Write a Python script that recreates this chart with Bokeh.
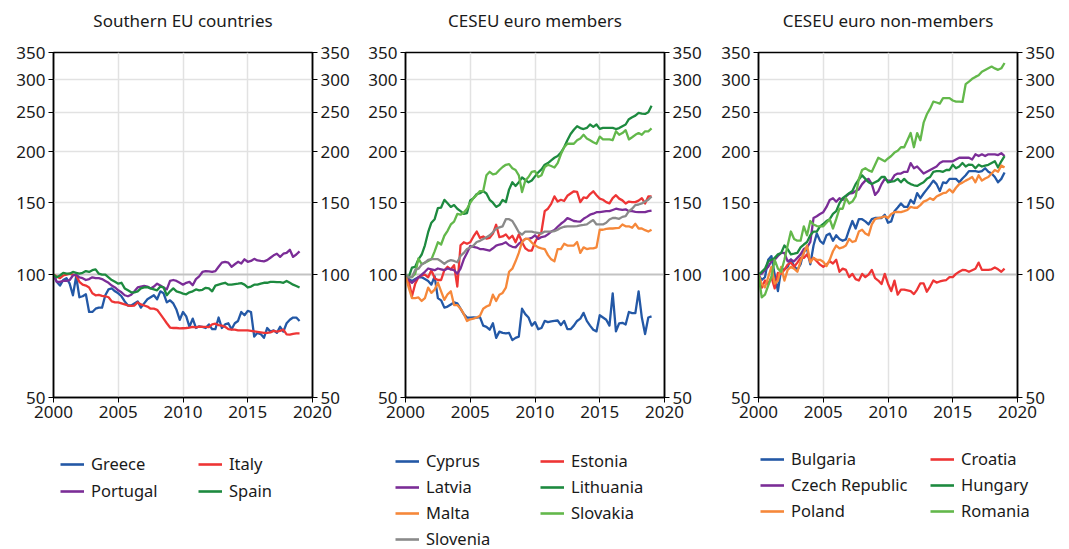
from bokeh.plotting import figure
from bokeh.models import (LogAxis, LinearAxis, FixedTicker, BasicTickFormatter, Span,
                          Legend, LegendItem)
from bokeh.layouts import row, column
from bokeh.embed import file_html
from bokeh.resources import INLINE

# quarterly observations, 2000Q1 .. 2019Q1 (index 2000Q1 = 100)
years = [2000 + 0.25 * i for i in range(77)]

y_ticks = [50, 100, 150, 200, 250, 300, 350]
x_ticks = [2000, 2005, 2010, 2015, 2020]

# ---- Southern EU countries ----
greece = [100, 96, 94, 97, 98, 95, 89, 99, 88, 88.5,
          89.5, 81, 81, 82.5, 83, 83, 89, 92, 92.5, 91,
          90, 88.5, 86, 84, 84, 85, 86, 83, 85, 87,
          88, 89, 87, 91, 90, 85.5, 86.5, 85, 82, 77.5,
          81, 79, 74.5, 78, 74, 74.7, 74.5, 74, 75.5, 73.5,
          73.5, 78.5, 74, 75.5, 76, 73.5, 76, 77, 81, 79.5,
          81.5, 81, 70.5, 72, 71.5, 70, 74, 72.5, 73, 72,
          74.5, 72.5, 76, 77.5, 78.5, 78.5, 77]
italy = [100, 99, 98, 99.5, 100, 100.5, 100, 99.5, 96, 94.5,
         94, 93, 90, 89, 89.2, 88.7, 88.5, 88, 86, 85.5,
         85.5, 85, 84.5, 84, 83.8, 84, 85.5, 84.5, 84, 83.5,
         82.5, 82.5, 82, 80, 78, 76, 74.2, 74, 74, 73.8,
         73.9, 74, 74.2, 74.5, 74.3, 74.6, 74.5, 74.5, 74.4, 75.5,
         75.8, 75.2, 75, 74.5, 73.5, 73.3, 73.3, 73, 73, 73,
         73, 72.8, 72.6, 72.4, 72.2, 72, 72, 72.2, 72.8, 72.5,
         72.8, 73.3, 71.4, 71.3, 71.6, 71.8, 71.8]
portugal = [100, 96, 96, 96.5, 96.5, 97, 99.5, 100, 98.5, 98,
            97, 97.5, 98.5, 98, 98, 97.5, 96.5, 95.5, 94, 93,
            91.5, 90.5, 89, 88.5, 89.3, 91, 93, 93.5, 93.8, 93.5,
            92.5, 93.5, 95, 94, 93, 92, 96.5, 97, 96.5, 95.5,
            94.5, 95.5, 96, 94.2, 97.5, 99, 101.5, 102, 101.8, 101.5,
            102, 104.5, 107, 107.5, 107, 104.5, 106, 107.5, 106.5, 109,
            107.5, 108, 109.3, 108.3, 108, 107.8, 108.5, 110, 111.5, 112.5,
            110.5, 112.5, 113, 115, 110.5, 112, 114]
spain = [100, 98.5, 99.5, 101, 100.5, 100.5, 101.5, 101, 100.5, 101,
         102, 101.5, 102.5, 103, 100.5, 100, 100, 98.5, 97, 96,
         95, 95.5, 92.5, 91.5, 90.5, 90.5, 91, 92.5, 93, 93.2,
         92.5, 92, 91.5, 93.5, 93, 89, 91, 92.5, 91, 90.5,
         89.8, 89.5, 90.5, 91, 92, 91.5, 91.8, 92.8, 92.5, 91,
         94, 94.5, 95, 95.5, 94.5, 94.5, 94.8, 95, 95.3, 94.5,
         93, 93.5, 94.5, 94.5, 95, 95.5, 95.5, 96, 96, 95.8,
         95.8, 95.5, 96.5, 95.5, 94.5, 93.8, 93]

# ---- CESEU euro members ----
cyprus = [100, 97.5, 96.5, 97.5, 98.5, 98.5, 97.5, 96.5, 94.5, 99,
          87.6, 86.5, 83, 83.5, 84.5, 85.5, 85, 82.5, 80, 78.5,
          78.5, 78.6, 78.5, 78.7, 75, 74.5, 73.3, 76, 70, 72.5,
          72, 71.8, 72, 69.1, 70, 70.5, 82.5, 80, 78.5, 75,
          76.5, 73.5, 74, 77, 76.5, 76.8, 77, 77.2, 75.2, 77,
          73.5, 73.5, 75, 77, 78, 80.6, 77, 75, 73.3, 72.6,
          79.5, 78.5, 77.5, 75, 90, 72.6, 76, 76.2, 75.5, 81,
          80.5, 80.5, 91, 78.5, 71.5, 78.5, 79]
estonia = [100, 96.5, 88.5, 95, 98.5, 99.5, 100, 98.5, 102.5, 98,
           97, 97, 102.5, 104.5, 103, 105.5, 93.5, 118, 120, 119,
           120, 124, 127.5, 123, 124, 122.5, 123, 126, 132.5, 123.5,
           124, 125.5, 122.5, 124.5, 120, 125.5, 120, 116, 114.5, 114.5,
           120, 124, 127.5, 143, 145, 149, 155.5, 151, 152.5, 151.5,
           156, 158, 160, 159.5, 150.5, 154.5, 154, 157.5, 160, 156.5,
           153.5, 152.5, 150.5, 149.5, 154, 156.5, 153.5, 152, 149.3, 151,
           150.5, 150.5, 151.8, 153.9, 149.4, 155.4, 155.4]
latvia = [100, 97, 95.5, 97, 98.5, 100, 101.6, 103.5, 103, 102.5,
          103.5, 103, 102.5, 103.5, 103, 102.5, 100.5, 103.4, 109, 113,
          117.5, 117, 116.5, 115.5, 115.5, 115, 114.5, 116, 117.8, 118.5,
          119, 120, 118, 117, 116.6, 119, 120.5, 122.3, 122.3, 123,
          124.8, 122.3, 123.6, 124, 125.5, 127.5, 128.5, 131, 133.2, 135,
          137.5, 136.5, 135.3, 135, 134.8, 137, 138.5, 140.2, 141, 142.2,
          142.2, 142.6, 143, 143, 144, 145, 144.5, 144, 144.5, 143,
          143, 142.5, 142.2, 142.2, 142.2, 143, 143.5]
lithuania = [100, 98.6, 104, 104.5, 109, 112, 118, 127, 134, 136.7,
             145.5, 146, 152.4, 149.5, 146.5, 148, 145, 143, 140.8, 141.5,
             152, 153.9, 157.5, 158.3, 160.2, 158, 152.5, 150, 146.5, 148,
             152.4, 150.5, 161.7, 168.3, 164.9, 168.3, 173, 170.5, 168.3, 170,
             174, 178, 181, 185.8, 187.6, 190.5, 193.3, 195.2, 199, 205.1,
             213.4, 221, 226.4, 231, 228.5, 227.3, 228.7, 233.2, 230.1, 233.2,
             227.5, 228.7, 228.7, 228.7, 228.7, 227.3, 228.5, 231, 233.2, 240.3,
             243, 245.1, 249, 248, 247.5, 250, 259.1]
malta = [100, 92.9, 87.6, 87.6, 87.9, 86.2, 87.6, 92.9, 90.2, 91.9,
         95.6, 91, 86.7, 89.5, 91, 84.2, 84.2, 82.5, 80.1, 77,
         77.7, 78, 78.5, 79.3, 82.5, 83.5, 84.2, 89.3, 86.2, 89.3,
         90.2, 92.9, 101.6, 103.4, 107.8, 113, 120.2, 122.3, 122.3, 119.8,
         118, 116.6, 116, 115.5, 111.6, 109, 107.8, 115.5, 115.5, 119,
         117.8, 117.8, 117.8, 120.2, 113, 116.6, 115.5, 116, 116, 116.6,
         128.8, 128.8, 129.5, 129.7, 129.7, 130, 130.2, 132.7, 131.3, 131.3,
         130.2, 133.2, 129.7, 129.7, 128.5, 127.5, 128.8]
slovakia = [100, 98.6, 98.6, 100.5, 109.5, 106, 107, 108, 109, 114,
            120, 118.5, 124.5, 128, 132.7, 134.8, 140.8, 140.2, 142, 145,
            150, 153.9, 156.8, 160.2, 160.2, 175.1, 178.6, 176, 176.8, 180.4,
            183.5, 185.8, 186.5, 182.2, 180.4, 175.1, 159.3, 169.9, 173.4, 178.6,
            179.3, 173.4, 175.1, 183.5, 185.8, 184.5, 183, 187.5, 197.1, 205.1,
            209.2, 209.2, 209.2, 213.4, 215.6, 220, 215.6, 213.4, 211, 209.2,
            217.8, 214.3, 214.3, 214.3, 213.4, 224.4, 220, 222.2, 225.8, 214.3,
            217, 220, 222.2, 220, 224.4, 224.4, 228]
slovenia = [100, 98.6, 98.6, 102.7, 103.4, 105.8, 107, 108.7, 109.1, 109.1,
            109.1, 107.8, 106.3, 107.8, 108.5, 108, 107.2, 111.1, 113, 115.5,
            116.5, 117.8, 120.2, 121, 122.3, 123.5, 124.8, 127, 129.7, 130.5,
            131.3, 136.7, 136.7, 135.3, 131.3, 127, 125.3, 127.5, 127.5, 127.5,
            126.8, 126.5, 126.1, 127.5, 127.5, 127.5, 127.8, 128.8, 130.2, 131,
            131.3, 131.3, 131.3, 131.5, 132, 132.3, 132.7, 134.5, 136, 132.7,
            132.7, 132.7, 134, 136.5, 137.6, 137.6, 137, 138.5, 139, 143,
            145, 148, 148.5, 149.4, 151, 152.5, 155.4]

# ---- CESEU euro non-members ----
bulgaria = [100, 97, 98.6, 108.7, 111, 100, 91.1, 103, 103, 104.5,
            109, 105, 102.7, 106, 114, 115.5, 106, 117.8, 126.1, 121,
            119, 124.8, 126, 121, 124.8, 122.3, 121, 122, 128.8, 135.3,
            129.7, 136.7, 136.7, 135, 132.7, 136.7, 137.6, 137.6, 137.6, 140.2,
            134, 135, 143, 146, 149.4, 146.5, 146.5, 152.4, 149.4, 158.3,
            153.9, 158, 161.7, 165.6, 169.9, 166.6, 160.2, 168.3, 167.5, 171.6,
            171.6, 171.6, 168.3, 172, 175.1, 179.3, 179.3, 179.3, 178.6, 179.3,
            182.2, 178.6, 176.8, 173.4, 168.3, 171.6, 177.9]
croatia = [100, 92.9, 96.7, 94.8, 98.6, 92.5, 101, 100.4, 102.7, 105.8,
           107, 104.5, 107, 109.9, 109.9, 112.1, 107.8, 109.9, 107.8, 105.8,
           104.5, 105.8, 107.8, 106.5, 108.7, 101.6, 103.4, 102.7, 98.6, 100.4,
           97.5, 96.7, 100.4, 98.6, 100, 102.7, 98, 96.7, 94.8, 100.4,
           95, 91.1, 96.7, 89.3, 91.9, 91.9, 91.5, 91.1, 89.6, 91.9,
           95.2, 95.2, 90.8, 93.5, 96.7, 95.6, 96.2, 96.7, 97, 98.6,
           98.6, 100.4, 101.6, 102.7, 102.5, 101.6, 102.5, 103.4, 107, 102.7,
           102.7, 102.7, 103, 104.1, 103, 101.6, 103.4]
czech = [100, 100.5, 102.7, 104.5, 107.8, 108.7, 111.1, 113, 113, 107.8,
         108.7, 107.8, 109.9, 112.1, 115.5, 116.6, 120.2, 137.6, 139, 140.8,
         142.2, 146.5, 152.4, 153.9, 150.9, 153.9, 152.4, 155.4, 157.9, 158.3,
         160.2, 161.7, 166.6, 169.9, 171.6, 166.6, 156.8, 160, 166.6, 171.6,
         169.9, 169.9, 175.1, 176.8, 176.8, 178.6, 178.6, 187.6, 182.2, 184,
         180.4, 176.8, 178.6, 180.4, 182.2, 184, 187.6, 189.5, 189.5, 189.5,
         189.5, 191.4, 193.3, 193.3, 193.3, 193.3, 191.4, 197.1, 195.2, 197.1,
         195.2, 197.1, 197.1, 197.1, 196.3, 198.3, 195.2]
hungary = [100, 101.6, 103.4, 107.8, 108.7, 109.9, 112.1, 113, 117.8, 115.5,
           112.1, 112.5, 113, 116.6, 118.5, 120.2, 124.8, 127.5, 127.5, 131.3,
           133, 135.3, 136.7, 140.8, 143, 149.4, 153.9, 156, 158.3, 160.2,
           166.6, 171, 175.1, 171.6, 168.3, 166.6, 168.3, 169.9, 173.4, 173.4,
           168.3, 169, 169.5, 171.6, 168.3, 171.6, 168.3, 166.6, 165.5, 164.9,
           166.6, 168.3, 171.6, 173.4, 178.6, 179.3, 179.3, 178.6, 180.4, 180.4,
           185.8, 182.2, 184, 187.6, 184, 186, 185.8, 182.2, 185.8, 184,
           185, 185.8, 187.6, 189.5, 182.9, 189.5, 195.2]
poland = [100, 94.8, 93, 98.6, 104.5, 95, 96.7, 104.5, 96.7, 102.7,
          104.5, 103.4, 101.6, 107.8, 113, 117.8, 107, 109.9, 108.7, 108.7,
          107.5, 104.9, 108.7, 114.1, 117.8, 116, 116.6, 117.8, 122.3, 120.2,
          121, 127.5, 128.8, 126.1, 124.8, 132.7, 136.7, 137.6, 138.1, 139,
          137.6, 140.8, 142.2, 142.5, 142.2, 143, 144, 146.5, 145.8, 145.8,
          148, 150.9, 152, 153.9, 152.4, 155.4, 156.8, 158.3, 158.9, 161.7,
          158.9, 163.2, 166.6, 168, 169.9, 171.5, 173.4, 168.3, 175.1, 169.9,
          172, 173.4, 176.8, 180.4, 178.6, 185.1, 183]
romania = [100, 88, 89.3, 94, 98.6, 108.7, 103.4, 101.6, 108.7, 117.8,
           127.5, 122.3, 121.1, 121.1, 131.3, 124.8, 135.3, 132.7, 131.5, 131.3,
           131.3, 134, 136.7, 129.7, 136.7, 145, 145, 153.9, 149.4, 151,
           155.4, 171.6, 180.4, 182.2, 180, 178.6, 185.8, 193.3, 191.4, 189.5,
           192.5, 195.2, 199, 201.1, 205.1, 205.1, 213.4, 222.2, 205.1, 222.2,
           213.4, 235.6, 247, 255, 265.3, 264, 262.4, 270.6, 270.6, 270.6,
           267, 265.3, 265.3, 264.8, 292.9, 297, 301.7, 305, 307.8, 313.9,
           317, 320.2, 323.3, 320, 317.4, 320.2, 329.9]

BLUE = "#2358a6"
RED = "#ee3535"
PURPLE = "#7b2d97"
DGREEN = "#1d8a3f"
ORANGE = "#f6883a"
LGREEN = "#63b84b"
GREY = "#8a8a8a"

FONT = "Noto Sans"
TOP = 52
FH = 345
CH = 432          # chart figure height
LH = 549 - CH     # legend strip height


def make_panel(title, series, left, right, fw, leg_x, leg_top, label_w, spacing):
    W = left + fw + right
    p = figure(width=W, height=CH, x_range=(2000, 2020), y_range=(50, 350),
               y_axis_type="log", output_backend="svg", toolbar_location=None,
               min_border_left=left, min_border_right=right,
               min_border_top=TOP, min_border_bottom=CH - TOP - FH)

    p.outline_line_color = "black"
    p.outline_line_width = 1.5
    p.outline_line_alpha = 1

    xax = p.xaxis[0]
    yax = p.yaxis[0]
    xax.ticker = FixedTicker(ticks=x_ticks)
    yax.ticker = FixedTicker(ticks=y_ticks)
    yax.formatter = BasicTickFormatter()
    raxis = LogAxis(ticker=FixedTicker(ticks=y_ticks), formatter=BasicTickFormatter())
    p.add_layout(raxis, "right")

    for ax in [xax, yax, raxis]:
        ax.axis_line_color = "black"
        ax.axis_line_width = 1.5
        ax.major_tick_line_color = "black"
        ax.major_tick_line_width = 1
        ax.major_tick_out = 5
        ax.major_tick_in = 0
        ax.minor_tick_line_color = None
        ax.major_label_text_font = FONT
        ax.major_label_text_font_size = "17px"
        ax.major_label_text_color = "#1a1a1a"
        ax.major_label_standoff = 3

    # panel heading, carried by an axis above the frame (no ticks, no line)
    head = LinearAxis(ticker=FixedTicker(ticks=[]), axis_label=title,
                      axis_label_standoff=21,
                      axis_label_text_font=FONT, axis_label_text_font_size="17px",
                      axis_label_text_font_style="normal",
                      axis_label_text_color="#1a1a1a",
                      axis_line_color=None, major_tick_line_color=None,
                      minor_tick_line_color=None, major_tick_out=0, major_tick_in=0,
                      major_label_text_font_size="0px")
    p.add_layout(head, "above")

    p.xgrid.ticker = FixedTicker(ticks=[2005, 2010, 2015])
    p.ygrid.ticker = FixedTicker(ticks=[150, 200, 250, 300])
    p.grid.grid_line_color = "#e2e2e2"
    p.grid.grid_line_width = 1.5
    p.add_layout(Span(location=100, dimension="width", line_color="#c3c3c3",
                      line_width=2, level="underlay"))

    for name, vals, color in series:
        p.line(years, vals, line_color=color, line_width=2.3, line_join="round")

    # legend strip below the chart (its ranges keep the series out of view;
    # only the legend keys are visible)
    lg = figure(width=W, height=LH, x_range=(0, 1), y_range=(0, 1),
                x_axis_type=None, y_axis_type=None, output_backend="svg",
                toolbar_location=None, min_border_left=leg_x - leg_top,
                min_border_right=0, min_border_top=0, min_border_bottom=0)
    lg.frame_align = False
    lg.outline_line_color = None
    handles = []
    for name, vals, color in series:
        r = lg.line(years, vals, line_color=color, line_width=2.6)
        handles.append((name, r))
    order = handles[0::2] + handles[1::2]   # left column, then right column
    legend = Legend(items=[LegendItem(label=n, renderers=[r]) for n, r in order],
                    location="top_left", ncols=2,
                    padding=0, margin=leg_top, spacing=spacing,
                    glyph_width=24, glyph_height=20, label_height=20,
                    label_width=label_w, label_standoff=7,
                    label_text_font=FONT, label_text_font_size="16.5px",
                    label_text_color="#1a1a1a",
                    border_line_color=None, background_fill_alpha=0)
    lg.add_layout(legend)
    return column(p, lg, spacing=0)


p1 = make_panel("Southern EU countries",
                [("Greece", greece, BLUE), ("Italy", italy, RED),
                 ("Portugal", portugal, PURPLE), ("Spain", spain, DGREEN)],
                53, 48, 259, 60, 20, 138 - 24 - 7 - 4, 4)
p2 = make_panel("CESEU euro members",
                [("Cyprus", cyprus, BLUE), ("Estonia", estonia, RED),
                 ("Latvia", latvia, PURPLE), ("Lithuania", lithuania, DGREEN),
                 ("Malta", malta, ORANGE), ("Slovakia", slovakia, LGREEN),
                 ("Slovenia", slovenia, GREY)],
                45, 49, 259, 35, 17, 145 - 24 - 7 - 3, 3)
p3 = make_panel("CESEU euro non-members",
                [("Bulgaria", bulgaria, BLUE), ("Croatia", croatia, RED),
                 ("Czech Republic", czech, PURPLE), ("Hungary", hungary, DGREEN),
                 ("Poland", poland, ORANGE), ("Romania", romania, LGREEN)],
                45, 44, 259, 47, 15, 170 - 24 - 7 - 3, 3)

layout = row(p1, p2, p3, spacing=0)
open("out.html", "w").write(file_html(layout, INLINE))
